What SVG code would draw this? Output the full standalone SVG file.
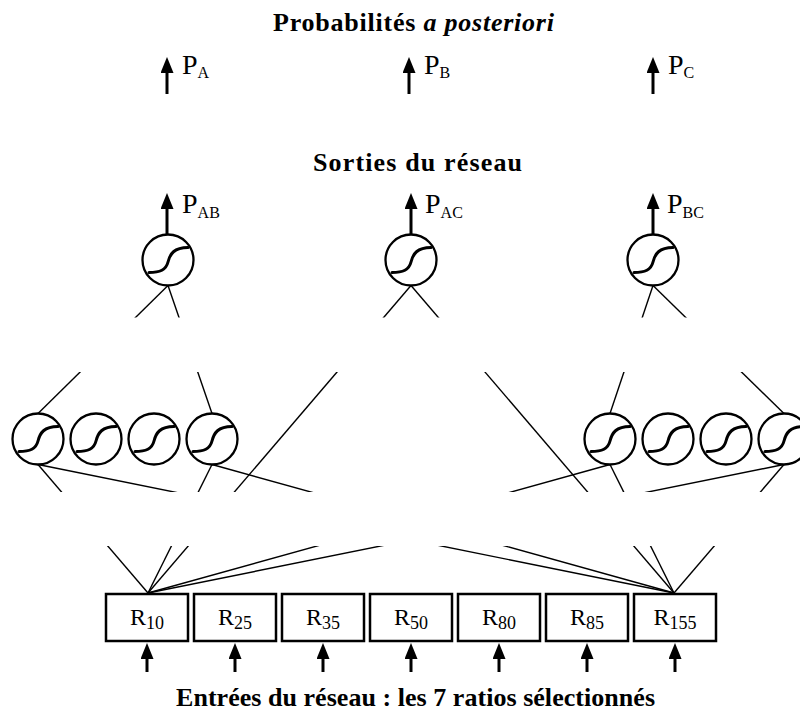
<svg xmlns="http://www.w3.org/2000/svg" xmlns:xlink="http://www.w3.org/1999/xlink" width="800" height="713" viewBox="0 0 800 713">
<style>
  text { font-family: "Liberation Serif", "Times New Roman", serif; fill: #000; }
  .title { font-size: 26px; font-weight: bold; }
  .plabel { font-size: 28px; }
  .psub { font-size: 16px; }
  .rlabel { font-size: 24px; }
  .rsub { font-size: 18px; }
  .neuron { fill: #fff; stroke: #000; stroke-width: 2.3; }
  .sig { fill: none; stroke: #000; stroke-width: 3; stroke-linecap: round; }
  .box { fill: #fff; stroke: #000; stroke-width: 2.5; }
  .arrow { stroke: #000; stroke-width: 3; fill: none; marker-end: url(#head); }
  .conn line { stroke: #000; stroke-width: 1.4; }
</style>
<defs>
  <marker id="head" markerUnits="userSpaceOnUse" markerWidth="17" markerHeight="13" refX="0" refY="6.5" orient="auto">
    <path d="M0,0 L16,6.5 L0,13 z" fill="#000"/>
  </marker>
  <g id="neuronShape">
    <circle r="25.5" class="neuron"/>
    <path class="sig" d="M-19,12.5 C-8,12.5 -2,10 0,2 S6,-12.5 20,-12.5"/>
  </g>
  <clipPath id="bands">
    <rect x="0" y="285" width="800" height="32.5"/>
    <rect x="0" y="372" width="800" height="120"/>
    <rect x="0" y="546" width="800" height="48"/>
  </clipPath>
</defs>

<rect width="800" height="713" fill="#fff"/>

<!-- Titles -->
<text id="title-top" class="title" x="273" y="31" textLength="281" lengthAdjust="spacing">Probabilités <tspan font-style="italic">a posteriori</tspan></text>
<text id="title-mid" class="title" x="313" y="171" textLength="209" lengthAdjust="spacing">Sorties du réseau</text>
<text id="title-bottom" class="title" x="176" y="706" textLength="479" lengthAdjust="spacing">Entrées du réseau : les 7 ratios sélectionnés</text>

<!-- Connectors -->
<g id="connectors" class="conn" clip-path="url(#bands)">
  <line x1="168" y1="285.5" x2="38" y2="413.5"/>
  <line x1="168" y1="285.5" x2="212" y2="413.5"/>
  <line x1="411" y1="285.5" x2="148" y2="593"/>
  <line x1="411" y1="285.5" x2="674" y2="593"/>
  <line x1="653" y1="285.5" x2="610" y2="413.5"/>
  <line x1="653" y1="285.5" x2="784" y2="413.5"/>
  <line x1="38" y1="464.5" x2="148" y2="593"/>
  <line x1="38" y1="464.5" x2="674" y2="593"/>
  <line x1="212" y1="464.5" x2="148" y2="593"/>
  <line x1="212" y1="464.5" x2="674" y2="593"/>
  <line x1="610" y1="464.5" x2="148" y2="593"/>
  <line x1="610" y1="464.5" x2="674" y2="593"/>
  <line x1="784" y1="464.5" x2="148" y2="593"/>
  <line x1="784" y1="464.5" x2="674" y2="593"/>
</g>

<!-- Posterior probability arrows -->
<g id="prob-A">
  <line class="arrow" x1="167" y1="94" x2="167" y2="73"/>
  <text x="182" y="74" class="plabel">P<tspan class="psub" dy="4">A</tspan></text>
</g>
<g id="prob-B">
  <line class="arrow" x1="409" y1="94" x2="409" y2="73"/>
  <text x="424" y="74" class="plabel">P<tspan class="psub" dy="4">B</tspan></text>
</g>
<g id="prob-C">
  <line class="arrow" x1="653" y1="94" x2="653" y2="73"/>
  <text x="668" y="74" class="plabel">P<tspan class="psub" dy="4">C</tspan></text>
</g>

<!-- Output neurons -->
<g id="out-AB">
  <line class="arrow" x1="167" y1="234" x2="167" y2="209"/>
  <use xlink:href="#neuronShape" transform="translate(168,260)"/>
  <text x="182" y="213" class="plabel">P<tspan class="psub" dy="4.5">AB</tspan></text>
</g>
<g id="out-AC">
  <line class="arrow" x1="411" y1="234" x2="411" y2="209"/>
  <use xlink:href="#neuronShape" transform="translate(411,260)"/>
  <text x="425" y="213" class="plabel">P<tspan class="psub" dy="4.5">AC</tspan></text>
</g>
<g id="out-BC">
  <line class="arrow" x1="653" y1="234" x2="653" y2="209"/>
  <use xlink:href="#neuronShape" transform="translate(653,260)"/>
  <text x="667" y="213" class="plabel">P<tspan class="psub" dy="4.5">BC</tspan></text>
</g>

<!-- Hidden neurons -->
<g id="hid-L1"><use xlink:href="#neuronShape" transform="translate(38,439)"/></g>
<g id="hid-L2"><use xlink:href="#neuronShape" transform="translate(96,439)"/></g>
<g id="hid-L3"><use xlink:href="#neuronShape" transform="translate(154,439)"/></g>
<g id="hid-L4"><use xlink:href="#neuronShape" transform="translate(212,439)"/></g>
<g id="hid-R1"><use xlink:href="#neuronShape" transform="translate(610,439)"/></g>
<g id="hid-R2"><use xlink:href="#neuronShape" transform="translate(668,439)"/></g>
<g id="hid-R3"><use xlink:href="#neuronShape" transform="translate(726,439)"/></g>
<g id="hid-R4"><use xlink:href="#neuronShape" transform="translate(784,439)"/></g>

<!-- Inputs -->
<g id="in-R10">
  <rect class="box" x="106" y="594" width="82" height="47"/>
  <text x="147" y="625" text-anchor="middle" class="rlabel">R<tspan class="rsub" dy="4">10</tspan></text>
  <line class="arrow" x1="147" y1="672" x2="147" y2="659"/>
</g>
<g id="in-R25">
  <rect class="box" x="194" y="594" width="82" height="47"/>
  <text x="235" y="625" text-anchor="middle" class="rlabel">R<tspan class="rsub" dy="4">25</tspan></text>
  <line class="arrow" x1="235" y1="672" x2="235" y2="659"/>
</g>
<g id="in-R35">
  <rect class="box" x="282" y="594" width="82" height="47"/>
  <text x="323" y="625" text-anchor="middle" class="rlabel">R<tspan class="rsub" dy="4">35</tspan></text>
  <line class="arrow" x1="323" y1="672" x2="323" y2="659"/>
</g>
<g id="in-R50">
  <rect class="box" x="370" y="594" width="82" height="47"/>
  <text x="411" y="625" text-anchor="middle" class="rlabel">R<tspan class="rsub" dy="4">50</tspan></text>
  <line class="arrow" x1="411" y1="672" x2="411" y2="659"/>
</g>
<g id="in-R80">
  <rect class="box" x="458" y="594" width="82" height="47"/>
  <text x="499" y="625" text-anchor="middle" class="rlabel">R<tspan class="rsub" dy="4">80</tspan></text>
  <line class="arrow" x1="499" y1="672" x2="499" y2="659"/>
</g>
<g id="in-R85">
  <rect class="box" x="546" y="594" width="82" height="47"/>
  <text x="587" y="625" text-anchor="middle" class="rlabel">R<tspan class="rsub" dy="4">85</tspan></text>
  <line class="arrow" x1="587" y1="672" x2="587" y2="659"/>
</g>
<g id="in-R155">
  <rect class="box" x="634" y="594" width="82" height="47"/>
  <text x="675" y="625" text-anchor="middle" class="rlabel">R<tspan class="rsub" dy="4">155</tspan></text>
  <line class="arrow" x1="675" y1="672" x2="675" y2="659"/>
</g>
</svg>
